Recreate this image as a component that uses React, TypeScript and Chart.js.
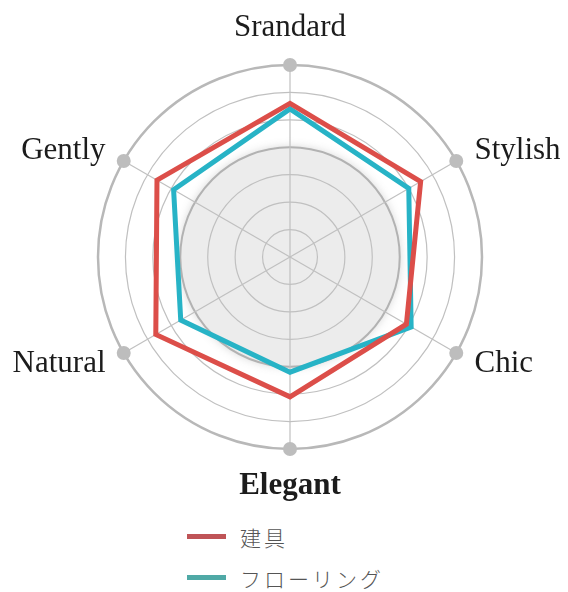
import React, { useEffect, useLayoutEffect, useRef } from 'react';
import { Chart, registerables } from 'chart.js';

Chart.register(...registerables);

const categories = ['Srandard', 'Stylish', 'Chic', 'Elegant', 'Natural', 'Gently'];
const seriesNames = ['建具', 'フローリング'];
const tateguValues = [5.6, 5.5, 4.9, 5.1, 5.65, 5.6];
const flooringValues = [5.4, 5.0, 5.1, 4.2, 4.6, 4.9];
const outerMarkers = [7, 7, 7, 7, 7, 7];
const scaleMax = 7;
const shadedLevel = 4;

const lineColors = ['#dc4e49', '#27b3c6'];
const legendColors = ['#bf5457', '#4fa9a6'];
const labelFont = "'Liberation Serif', 'DejaVu Serif', serif";

// light grey disc behind the grid
const shadedDisc = {
  id: 'shadedDisc',
  beforeDraw(chart: any) {
    const scale = chart.scales.r;
    if (!scale) return;
    const { ctx } = chart;
    const r = scale.getDistanceFromCenterForValue(shadedLevel);
    ctx.save();
    ctx.fillStyle = '#ececec';
    ctx.shadowColor = 'rgba(205,205,205,0.9)';
    ctx.shadowBlur = 10;
    ctx.beginPath();
    ctx.arc(scale.xCenter, scale.yCenter, r, 0, Math.PI * 2);
    ctx.fill();
    ctx.restore();
  },
};

// axis labels, vertically centred on their spoke
const axisLabels = {
  id: 'axisLabels',
  afterDraw(chart: any) {
    const scale = chart.scales.r;
    if (!scale) return;
    const { ctx } = chart;
    ctx.save();
    ctx.fillStyle = '#1c1c1c';
    ctx.textBaseline = 'middle';
    categories.forEach((label, i) => {
      const angle = (360 / categories.length) * i;
      const vertical = angle === 0 || angle === 180;
      const dist = scale.drawingArea + (vertical ? 37 : 21);
      const pos = scale.getPointPosition(i, dist);
      const bold = label === 'Elegant';
      ctx.font = `${bold ? 'bold ' : ''}31px ${labelFont}`;
      ctx.textAlign = vertical ? 'center' : angle < 180 ? 'left' : 'right';
      ctx.fillText(label, pos.x, pos.y);
    });
    ctx.restore();
  },
};

function RadarChart() {
  const chartRef = useRef<HTMLCanvasElement>(null);
  const chartInstance = useRef<Chart | null>(null);

  useEffect(() => {
    if (!chartRef.current) return;
    const ctx = chartRef.current.getContext('2d');
    if (!ctx) return;

    chartInstance.current = new Chart(ctx, {
      type: 'radar',
      data: {
        labels: categories,
        datasets: [
          {
            label: seriesNames[0],
            data: tateguValues,
            borderColor: lineColors[0],
            borderWidth: 5,
            borderJoinStyle: 'miter',
            fill: false,
            pointRadius: 0,
          },
          {
            label: seriesNames[1],
            data: flooringValues,
            borderColor: lineColors[1],
            borderWidth: 5,
            borderJoinStyle: 'miter',
            fill: false,
            pointRadius: 0,
          },
          {
            label: 'markers',
            data: outerMarkers,
            showLine: false,
            fill: false,
            backgroundColor: 'rgba(0,0,0,0)',
            borderWidth: 0,
            pointRadius: 7,
            pointBackgroundColor: '#bdbdbd',
            pointBorderWidth: 0,
          },
        ],
      },
      options: {
        responsive: true,
        maintainAspectRatio: false,
        animation: false,
        layout: { padding: { left: 60, right: 56, top: 57, bottom: 59 } },
        plugins: {
          legend: { display: false },
          tooltip: { enabled: false },
        },
        scales: {
          r: {
            min: 0,
            max: scaleMax,
            ticks: { stepSize: 1, display: false },
            grid: {
              circular: true,
              color: (c: any) =>
                c.tick && c.tick.value === scaleMax ? '#b8b8b8' : c.tick && c.tick.value === shadedLevel ? '#b2b2b2' : '#c0c0c0',
              lineWidth: (c: any) =>
                c.tick && c.tick.value === scaleMax ? 2.5 : c.tick && c.tick.value === shadedLevel ? 2 : 1.2,
            },
            angleLines: { color: '#c0c0c0', lineWidth: 1.2 },
            pointLabels: { display: false },
          },
        },
      },
      plugins: [shadedDisc, axisLabels],
    } as any);

    return () => {
      if (chartInstance.current) {
        chartInstance.current.destroy();
        chartInstance.current = null;
      }
    };
  }, []);

  return (
    <div style={{ height: '500px', position: 'relative' }}>
      <canvas ref={chartRef}></canvas>
    </div>
  );
}

export default function App() {
  // the legend runs to the bottom edge; keep the page from growing a scrollbar
  useLayoutEffect(() => {
    const prev = document.documentElement.style.overflow;
    document.documentElement.style.overflow = 'hidden';
    return () => {
      document.documentElement.style.overflow = prev;
    };
  }, []);

  return (
    <div style={{ width: '560px' }}>
      <RadarChart />
      <div style={{ paddingLeft: '179px', marginTop: '8px' }}>
        {seriesNames.map((name, i) => (
          <div key={name} style={{ display: 'flex', alignItems: 'center', height: '41px' }}>
            <span
              style={{
                display: 'inline-block',
                width: '39px',
                height: '5px',
                background: legendColors[i],
                marginRight: '14px',
              }}
            />
            <span
              style={{
                fontFamily: "'Noto Sans CJK JP', 'Noto Sans', sans-serif",
                fontWeight: 300,
                fontSize: '21px',
                letterSpacing: '3px',
                color: '#555',
              }}
            >
              {name}
            </span>
          </div>
        ))}
      </div>
    </div>
  );
}
